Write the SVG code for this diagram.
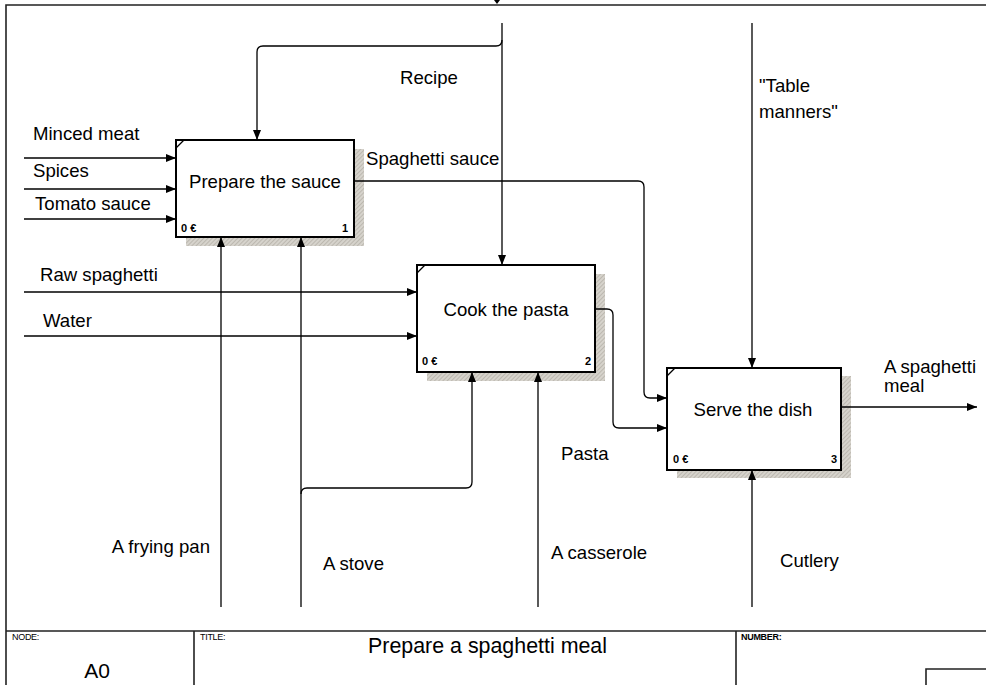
<svg xmlns="http://www.w3.org/2000/svg" width="986" height="685" viewBox="0 0 986 685">
<style>
text{font-family:"Liberation Sans",Arial,sans-serif;fill:#000}
.lbl{font-size:18.6px}
.box{fill:#fff;stroke:#000;stroke-width:2}
.shadow{fill:url(#hatch)}
.cn{fill:none;stroke:#000;stroke-width:1.3}
.fr{fill:none;stroke:#222;stroke-width:1.6}
.small{font-size:11px;font-weight:bold}
.hdr{font-size:9px;letter-spacing:-0.3px}
</style>
<defs>
<pattern id="hatch" width="3" height="3" patternUnits="userSpaceOnUse" patternTransform="rotate(45)">
<rect width="3" height="3" fill="#d6d3cc"/>
<line x1="0" y1="0" x2="0" y2="3" stroke="#aaa69d" stroke-width="1.2"/>
</pattern>
<marker id="ah" viewBox="0 0 10 8" refX="10" refY="4" markerWidth="10" markerHeight="8" markerUnits="userSpaceOnUse" orient="auto">
<path d="M0,0 L10,4 L0,8 Z" fill="#000"/>
</marker>
</defs>
<rect width="986" height="685" fill="#fff"/>
<g id="frame">
<path class="fr" d="M6,685 V5 H986"/>
<path class="fr" d="M6,631 H986 M194,631 V685 M736,631 V685 M926,685 V669 H986"/>
<path d="M494,0 L500,0 L497,4 Z" fill="#000"/>
<text class="hdr" x="12" y="640">NODE:</text>
<text class="hdr" x="200" y="640">TITLE:</text>
<text class="hdr" x="741" y="640" font-weight="bold">NUMBER:</text>
<text x="368" y="653" font-size="21.4">Prepare a spaghetti meal</text>
<text x="97" y="678" font-size="21" text-anchor="middle">A0</text>
</g>
<g id="node1">
<rect class="shadow" x="186" y="149" width="178" height="97"/>
<rect class="box" x="176" y="140" width="178" height="97"/>
<path d="M176,148 L184,140" stroke="#000" stroke-width="1.3"/>
<text class="lbl" x="265" y="188" text-anchor="middle">Prepare the sauce</text>
<text class="small" x="181" y="232">0 €</text>
<text class="small" x="348" y="232" text-anchor="end">1</text>
</g>
<g id="node2">
<rect class="shadow" x="427" y="274" width="178" height="107"/>
<rect class="box" x="417" y="265" width="178" height="107"/>
<path d="M417,273 L425,265" stroke="#000" stroke-width="1.3"/>
<text class="lbl" x="506" y="316" text-anchor="middle">Cook the pasta</text>
<text class="small" x="422" y="365">0 €</text>
<text class="small" x="591" y="365" text-anchor="end">2</text>
</g>
<g id="node3">
<rect class="shadow" x="677" y="376" width="174" height="102"/>
<rect class="box" x="667" y="368" width="174" height="102"/>
<path d="M667,376 L675,368" stroke="#000" stroke-width="1.3"/>
<text class="lbl" x="753" y="416" text-anchor="middle">Serve the dish</text>
<text class="small" x="673" y="463">0 €</text>
<text class="small" x="837" y="463" text-anchor="end">3</text>
</g>
<g id="connectors">
<path class="cn" d="M502,23 V265" marker-end="url(#ah)"/>
<path class="cn" d="M502,40 Q502,46 496,46 H263 Q257,46 257,52 V140" marker-end="url(#ah)"/>
<path class="cn" d="M752,23 V368" marker-end="url(#ah)"/>
<path class="cn" d="M24,158 H176" marker-end="url(#ah)"/>
<path class="cn" d="M24,189 H176" marker-end="url(#ah)"/>
<path class="cn" d="M24,219 H176" marker-end="url(#ah)"/>
<path class="cn" d="M24,292 H417" marker-end="url(#ah)"/>
<path class="cn" d="M24,336 H417" marker-end="url(#ah)"/>
<path class="cn" d="M221,607 V237" marker-end="url(#ah)"/>
<path class="cn" d="M301,607 V237" marker-end="url(#ah)"/>
<path class="cn" d="M301,494 Q301,488 307,488 H466 Q472,488 472,482 V372" marker-end="url(#ah)"/>
<path class="cn" d="M538,607 V372" marker-end="url(#ah)"/>
<path class="cn" d="M752,607 V470" marker-end="url(#ah)"/>
<path class="cn" d="M354,181 H638 Q644,181 644,187 V392 Q644,398 650,398 H667" marker-end="url(#ah)"/>
<path class="cn" d="M595,309 H607 Q613,309 613,315 V422 Q613,428 619,428 H667" marker-end="url(#ah)"/>
<path class="cn" d="M841,407 H977" marker-end="url(#ah)"/>
</g>
<g id="labels">
<text class="lbl" x="33" y="140">Minced meat</text>
<text class="lbl" x="33" y="177">Spices</text>
<text class="lbl" x="35" y="210">Tomato sauce</text>
<text class="lbl" x="400" y="84">Recipe</text>
<text class="lbl" x="759" y="92">"Table</text>
<text class="lbl" x="759" y="118">manners"</text>
<text class="lbl" x="366" y="165">Spaghetti sauce</text>
<text class="lbl" x="40" y="281">Raw spaghetti</text>
<text class="lbl" x="43" y="327">Water</text>
<text class="lbl" x="884" y="373">A spaghetti</text>
<text class="lbl" x="884" y="392">meal</text>
<text class="lbl" x="561" y="460">Pasta</text>
<text class="lbl" x="210" y="553" text-anchor="end">A frying pan</text>
<text class="lbl" x="323" y="570">A stove</text>
<text class="lbl" x="551" y="559">A casserole</text>
<text class="lbl" x="780" y="567">Cutlery</text>
</g>
</svg>
